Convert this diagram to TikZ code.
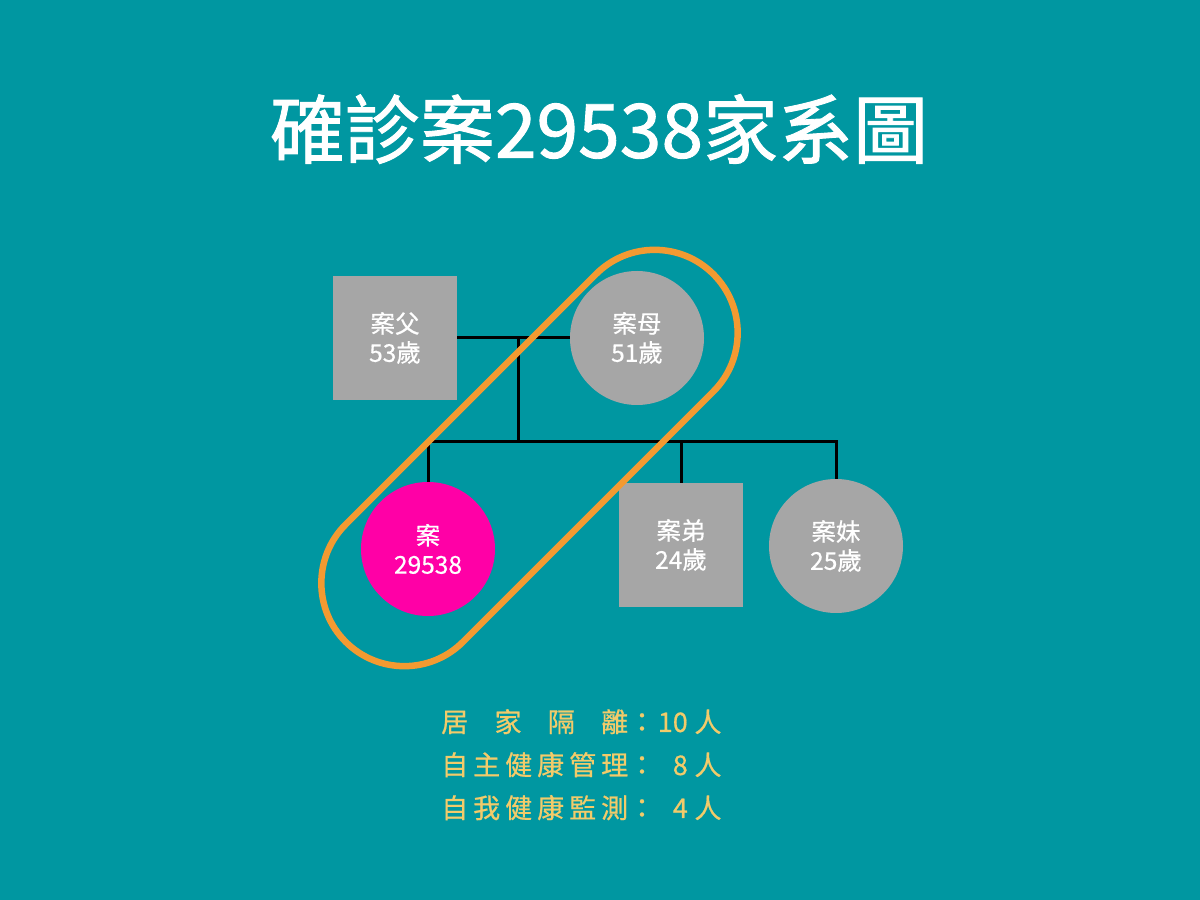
\documentclass[tikz,border=0pt]{standalone}
\usepackage{fontspec}
\setmainfont{Noto Sans CJK TC}
\newfontfamily\heavycjk{Noto Sans CJK TC}[FakeBold=1.2]
\newfontfamily\semicjk{Noto Sans CJK TC}[FakeBold=0.6]
\usetikzlibrary{positioning,calc}
\definecolor{sea}{HTML}{0097A1}
\definecolor{ash}{HTML}{A6A6A6}
\definecolor{fuchsia}{HTML}{FF00A6}
\definecolor{amber}{HTML}{F39A31}
\definecolor{sand}{HTML}{F2CB6A}

\begin{document}
\begin{tikzpicture}[x=1pt, y=1pt,
    person/.style={fill=ash, text=white, inner sep=0pt, align=center, font=\semicjk\fontsize{24.5}{29}\selectfont},
    male/.style={person, rectangle, minimum size=124pt},
    female/.style={person, circle, minimum size=134pt},
    link/.style={line width=3pt, draw=black},
    stat/.style={text=sand, inner sep=0pt, font=\semicjk\fontsize{27}{32}\selectfont}]

    % Sfondo
    \fill[sea] (0,0) rectangle (1200,900);

    % Titolo
    \node[text=white, font=\heavycjk\fontsize{75}{80}\selectfont] (title) at (599,771) {確診案29538家系圖};

    % Genitori
    \node[male] (father) at (395,562) {案父\\53歲};
    \node[female] (mother) at (637,562) {案母\\51歲};

    % Figli
    \node[female, fill=fuchsia] (index) at (428,351) {案\\29538};
    \node[male] (brother) at (681,355) {案弟\\24歲};
    \node[female] (sister) at (836,354) {案妹\\25歲};

    % Linee di parentela
    \coordinate (couple) at (518,562);
    \coordinate (sibs) at (518,458);
    \draw[link] (father) -- (mother);
    \draw[link] (couple) -- (sibs);
    \draw[link] (sibs) -| (index.north);
    \draw[link] (sibs) -| (brother.north);
    \draw[link] (sibs) -| (sister.north);

    % Capsula attorno a madre e caso
    \begin{scope}[shift={(529.5,442)}, rotate=45]
        \draw[amber, line width=6.5pt, rounded corners=83pt] (-260,-83) rectangle (260,83);
    \end{scope}

    % Riepilogo contatti
    \node[stat, anchor=base west] (quarLabel) at (441,168) {\hbox to 187pt{居\hfill 家\hfill 隔\hfill 離}};
    \node[stat, anchor=base] (quarColon) at (642,168) {：};
    \node[stat, anchor=base east] (quarNum) at (688,168) {10};
    \node[stat, anchor=base] (quarUnit) at (708,168) {人};

    \node[stat, anchor=base west] (selfLabel) at (441,125) {\hbox to 187pt{自\hfill 主\hfill 健\hfill 康\hfill 管\hfill 理}};
    \node[stat, anchor=base] (selfColon) at (642,125) {：};
    \node[stat, anchor=base east] (selfNum) at (688,125) {8};
    \node[stat, anchor=base] (selfUnit) at (708,125) {人};

    \node[stat, anchor=base west] (monLabel) at (441,82) {\hbox to 187pt{自\hfill 我\hfill 健\hfill 康\hfill 監\hfill 測}};
    \node[stat, anchor=base] (monColon) at (642,82) {：};
    \node[stat, anchor=base east] (monNum) at (688,82) {4};
    \node[stat, anchor=base] (monUnit) at (708,82) {人};
\end{tikzpicture}
\end{document}
